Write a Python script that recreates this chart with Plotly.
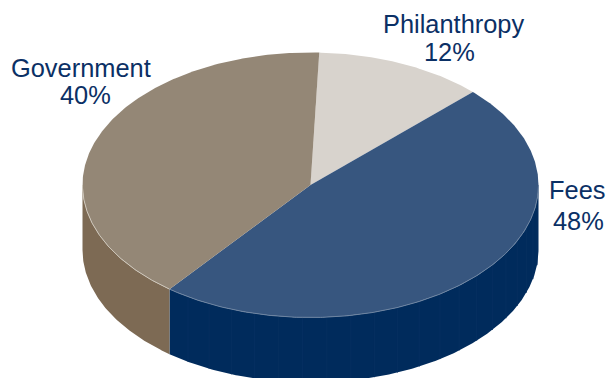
import numpy as np
import plotly.graph_objects as go

# Funding mix shown as a tilted, extruded pie
categories = ["Philanthropy", "Fees", "Government"]
shares = [12, 48, 40]
top_colors = ["#d8d3cd", "#37567f", "#948776"]
side_colors = ["#b5aea5", "#002b5c", "#7d6a54"]
rim_colors = ["#e6e2dd", "#6d84a1", "#cfc8bc"]

WIDTH, HEIGHT = 606, 378
CX, CY, RX, RY = 310.5, 185.0, 228.0, 132.5
DEPTH = 65.0
START_DEG = 2.2
TEXT_COLOR = "#0b3065"
TEXT_SIZE = 25.4
SEAM_STEP_DEG = 6.1

# name x, name y, share x, share y
label_anchor = {
    "Philanthropy": (453, 24, 449, 52),
    "Fees": (577, 190, 578, 221),
    "Government": (81, 68, 85, 95),
}


def ellipse(deg, drop=0.0):
    t = np.radians(deg)
    return CX + RX * np.sin(t), CY - RY * np.cos(t) + drop


def arc(a, b, drop=0.0):
    return ellipse(np.linspace(a, b, max(int(abs(b - a) * 2), 2)), drop)


edges = START_DEG + np.concatenate([[0], np.cumsum(shares)]) * 3.6
spans = list(zip(edges[:-1], edges[1:]))

fig = go.Figure()

# Outer wall: only the front half of the rim faces the viewer
for (a, b), color in zip(spans, side_colors):
    lo, hi = max(a, 90.0), min(b, 270.0)
    if lo >= hi:
        continue
    xt, yt = arc(lo, hi)
    xb, yb = arc(lo, hi, DEPTH)
    fig.add_trace(go.Scatter(
        x=np.concatenate([xt, xb[::-1]]), y=np.concatenate([yt, yb[::-1]]),
        mode="lines", fill="toself", fillcolor=color, line=dict(width=0),
        hoverinfo="skip", showlegend=False,
    ))

# Faint vertical facet seams on the navy wall
fees_a, fees_b = spans[1]
seam_x, seam_y = [], []
for deg in np.arange(182.0 - 14 * SEAM_STEP_DEG, fees_b, SEAM_STEP_DEG):
    if deg <= max(fees_a, 90.0):
        continue
    x0, y0 = ellipse(deg)
    x1, y1 = ellipse(deg, DEPTH)
    seam_x += [float(x0), float(x1), None]
    seam_y += [float(y0), float(y1), None]
fig.add_trace(go.Scatter(
    x=seam_x, y=seam_y, mode="lines", line=dict(color="#052f60", width=1),
    hoverinfo="skip", showlegend=False,
))

# Top face wedges
for (a, b), color, name in zip(spans, top_colors, categories):
    xa, ya = arc(a, b)
    fig.add_trace(go.Scatter(
        x=np.concatenate([[CX], xa, [CX]]), y=np.concatenate([[CY], ya, [CY]]),
        mode="lines", fill="toself", fillcolor=color, line=dict(width=0),
        name=name, hoverinfo="skip", showlegend=False,
    ))

# Thin highlight along the front edge of the top face
for (a, b), color in zip(spans, rim_colors):
    lo, hi = max(a, 90.0), min(b, 270.0)
    if lo >= hi:
        continue
    xr, yr = arc(lo, hi)
    fig.add_trace(go.Scatter(
        x=xr, y=yr, mode="lines", line=dict(color=color, width=1),
        hoverinfo="skip", showlegend=False,
    ))

# Two-line labels: category name above its share
for name, share in zip(categories, shares):
    x_name, y_name, x_pct, y_pct = label_anchor[name]
    for text, x, y in ((name, x_name, y_name), (f"{share}%", x_pct, y_pct)):
        fig.add_annotation(
            x=x, y=y, text=text, showarrow=False, xanchor="center", yanchor="middle",
            font=dict(family="Liberation Sans, Arial, sans-serif", size=TEXT_SIZE, color=TEXT_COLOR),
        )

fig.update_xaxes(range=[0, WIDTH], visible=False, fixedrange=True)
fig.update_yaxes(range=[HEIGHT, 0], visible=False, fixedrange=True)
fig.update_layout(
    width=WIDTH, height=HEIGHT, margin=dict(l=0, r=0, t=0, b=0),
    paper_bgcolor="white", plot_bgcolor="white", showlegend=False,
)
fig.write_html("out.html", config={"displayModeBar": False})
